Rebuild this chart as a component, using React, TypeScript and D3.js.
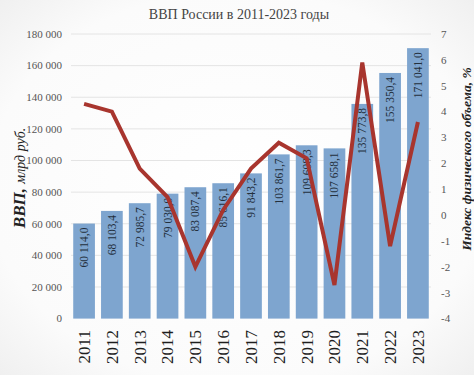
import React from "react";
import * as d3 from "d3";

const years = ["2011","2012","2013","2014","2015","2016","2017","2018","2019","2020","2021","2022","2023"];
const gdp = [60114.0, 68103.4, 72985.7, 79030.0, 83087.4, 85616.1, 91843.2, 103861.7, 109608.3, 107658.1, 135773.8, 155350.4, 171041.0];
const growth = [4.3, 4.0, 1.8, 0.7, -2.0, 0.2, 1.8, 2.8, 2.2, -2.7, 5.9, -1.2, 3.6];
const leftTicks = [0, 20000, 40000, 60000, 80000, 100000, 120000, 140000, 160000, 180000];
const rightTicks = [-4, -3, -2, -1, 0, 1, 2, 3, 4, 5, 6, 7];
const title = "ВВП России в 2011-2023 годы";

const W = 474, H = 375;
const FONT = "'Liberation Serif', 'Times New Roman', serif";

const fmtThousands = (v: number) => {
  const s = Math.round(v).toString();
  return s.replace(/\B(?=(\d{3})+(?!\d))/g, " ");
};
const fmtBar = (v: number) => {
  const [i, f] = v.toFixed(1).split(".");
  return fmtThousands(+i) + "," + f;
};

export default function App() {
  const x = d3.scaleBand<string>().domain(years).range([71, 431]).paddingInner(0.22).paddingOuter(0.08);
  const yL = d3.scaleLinear().domain([0, 180000]).range([318.6, 34]);
  const yR = d3.scaleLinear().domain([-4, 7]).range([318.6, 34]);
  const line = d3.line<number>()
    .x((_, i) => (x(years[i]) as number) + x.bandwidth() / 2)
    .y((d) => yR(d));

  return (
    <svg width={W} height={H} style={{ position: "absolute", left: 0, top: 0 }} fontFamily={FONT}>
      <defs>
        <radialGradient id="bg" cx="50%" cy="50%" r="75%">
          <stop offset="0%" stopColor="#ffffff" />
          <stop offset="70%" stopColor="#fbfbfb" />
          <stop offset="100%" stopColor="#ededed" />
        </radialGradient>
      </defs>
      <rect x={0} y={0} width={W} height={H} fill="url(#bg)" />
      <text x={239} y={19} textAnchor="middle" fontSize={14} fill="#444">{title}</text>
      {leftTicks.map((t) => (
        <g key={"l" + t}>
          {t > 0 && <line x1={71} x2={431} y1={yL(t)} y2={yL(t)} stroke="#e4e4e4" strokeWidth={1} />}
          <text x={62} y={yL(t)} dy="0.35em" textAnchor="end" fontSize={11} fill="#555">{fmtThousands(t)}</text>
        </g>
      ))}
      {rightTicks.map((t) => (
        <text key={"r" + t} x={441} y={yR(t)} dy="0.35em" textAnchor="start" fontSize={11} fill="#555">{t}</text>
      ))}
      {gdp.map((v, i) => (
        <rect key={"b" + i} x={x(years[i])} y={yL(v)} width={x.bandwidth()} height={yL(0) - yL(v)} fill="#7ea5cf" />
      ))}
      {gdp.map((v, i) => {
        const cx = (x(years[i]) as number) + x.bandwidth() / 2;
        const ty = yL(v) + 4;
        return (
          <text key={"bl" + i} transform={`translate(${cx},${ty}) rotate(-90)`} textAnchor="end" dy="0.35em" fontSize={11.5} fill="#24303d">{fmtBar(v)}</text>
        );
      })}
      <path d={line(growth) || ""} fill="none" stroke="#a8352e" strokeWidth={4} strokeLinejoin="miter" />
      {years.map((yr) => {
        const cx = (x(yr) as number) + x.bandwidth() / 2;
        return (
          <text key={"x" + yr} transform={`translate(${cx},${330}) rotate(-90)`} textAnchor="end" dy="0.35em" fontSize={17} fill="#1e1e1e">{yr}</text>
        );
      })}
      <text transform={`translate(19,178) rotate(-90)`} textAnchor="middle" dy="0.35em" fill="#222" fontStyle="italic">
        <tspan fontWeight="bold" fontSize={17}>ВВП, </tspan>
        <tspan fontSize={14}>млрд руб.</tspan>
      </text>
      <text transform={`translate(466,159) rotate(-90)`} textAnchor="middle" dy="0.35em" fill="#222" fontStyle="italic" fontWeight="bold" fontSize={13.5}>Индекс физического объема, %</text>
    </svg>
  );
}
